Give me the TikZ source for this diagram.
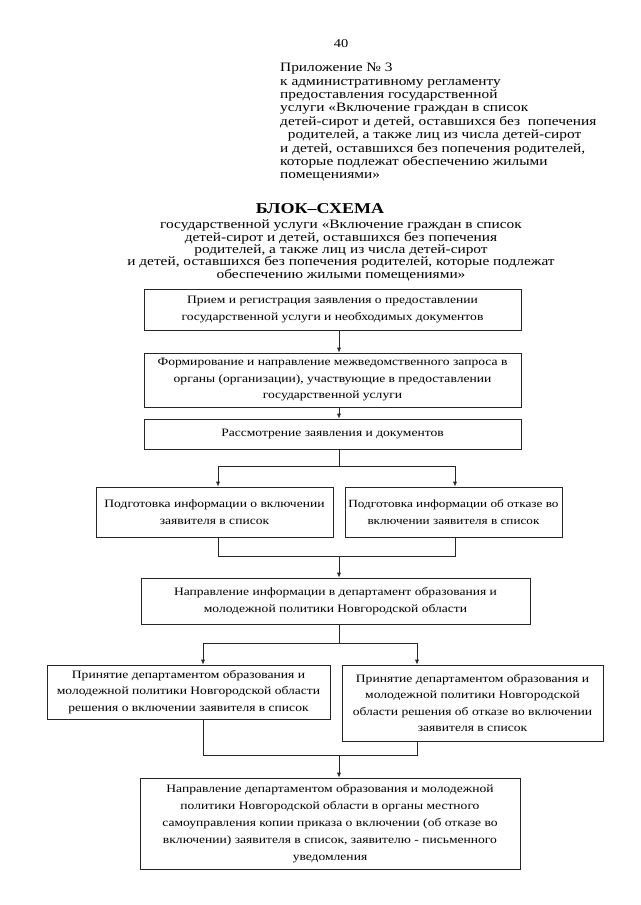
\documentclass[tikz,border=0pt]{standalone}
\usepackage{fontspec}
\setmainfont[FakeStretch=1.2]{Liberation Serif}
\usetikzlibrary{arrows.meta}
\begin{document}
\begin{tikzpicture}[x=1pt,y=-1pt,
  boxst/.style={draw=black!85,line width=0.7pt,align=center,inner sep=2pt,
     font=\fontsize{11.3}{16.5}\selectfont},
  linest/.style={draw=black!85,line width=0.7pt},
  arr/.style={linest,-{Latex[length=5pt,width=4pt]}}]
\useasboundingbox (0,0) rectangle (640,905);
\node (pg) at (341,44) {\fontsize{12}{14}\selectfont 40};
\node[anchor=north west,align=left,inner sep=0pt,font=\fontsize{12.8}{13.4}\selectfont] (hdr) at (280,63)
 {Приложение № 3\\к административному регламенту\\предоставления государственной\\услуги «Включение граждан в список\\ детей-сирот и детей, оставшихся без\ \ попечения\\\ \ родителей, а также лиц из числа детей-сирот\\и детей, оставшихся без попечения родителей,\\которые подлежат обеспечению жилыми\\помещениями»};
\node[font=\bfseries\fontsize{15}{16}\selectfont,inner sep=0pt] (ttl) at (320,209) {БЛОК–СХЕМА};
\node[anchor=north,align=center,inner sep=0pt,font=\fontsize{12.8}{12.3}\selectfont] (sub) at (341,220)
 {государственной услуги «Включение граждан в список\\детей-сирот и детей, оставшихся без попечения\\родителей, а также лиц из числа детей-сирот\\и детей, оставшихся без попечения родителей, которые подлежат\\обеспечению жилыми помещениями»};

\node[boxst,minimum width=377,minimum height=41] (b1) at (332.5,309.5)
 {Прием и регистрация заявления о предоставлении\\государственной услуги и необходимых документов};
\node[boxst,minimum width=377,minimum height=54] (b2) at (332.5,380)
 {Формирование и направление межведомственного запроса в\\органы (организации), участвующие в предоставлении\\государственной услуги};
\node[boxst,minimum width=377,minimum height=30] (b3) at (332.5,434)
 {Рассмотрение заявления и документов};
\node[boxst,minimum width=237,minimum height=50] (b4a) at (214.5,512)
 {Подготовка информации о включении\\заявителя в список};
\node[boxst,minimum width=217,minimum height=50,font=\fontsize{11}{16.5}\selectfont] (b4b) at (453.5,512)
 {Подготовка информации об отказе во\\включении заявителя в список};
\node[boxst,minimum width=389,minimum height=46] (b5) at (335.5,601)
 {Направление информации в департамент образования и\\молодежной политики Новгородской области};
\node[boxst,minimum width=283,minimum height=54] (b6a) at (188.5,692)
 {Принятие департаментом образования и\\молодежной политики Новгородской области\\решения о включении заявителя в список};
\node[boxst,minimum width=261,minimum height=76] (b6b) at (472.5,703)
 {Принятие департаментом образования и\\молодежной политики Новгородской\\области решения об отказе во включении\\заявителя в список};
\node[boxst,minimum width=380,minimum height=91,font=\fontsize{11.3}{17}\selectfont] (b7) at (330,823.5)
 {Направление департаментом образования и молодежной\\политики Новгородской области в органы местного\\самоуправления копии приказа о включении (об отказе во\\включении) заявителя в список, заявителю - письменного\\уведомления};

\coordinate (sp) at (339,0);
\coordinate (xa) at (218,0);
\coordinate (xb) at (455,0);
\coordinate (xc) at (203,0);
\coordinate (xd) at (417,0);
\coordinate (y1) at (0,466);
\coordinate (y2) at (0,556);
\coordinate (y3) at (0,643);
\coordinate (y4) at (0,755);

\draw[arr] (b1.south -| sp) -- (b2.north -| sp);
\draw[arr] (b2.south -| sp) -- (b3.north -| sp);
\draw[linest] (b3.south -| sp) -- (sp |- y1);
\draw[arr] (sp |- y1) -- (xa |- y1) -- (b4a.north -| xa);
\draw[arr] (sp |- y1) -- (xb |- y1) -- (b4b.north -| xb);
\draw[linest] (b4a.south -| xa) -- (xa |- y2) -- (xb |- y2) -- (b4b.south -| xb);
\draw[arr] (sp |- y2) -- (b5.north -| sp);
\draw[linest] (b5.south -| sp) -- (sp |- y3);
\draw[arr] (sp |- y3) -- (xc |- y3) -- (b6a.north -| xc);
\draw[arr] (sp |- y3) -- (xd |- y3) -- (b6b.north -| xd);
\draw[linest] (b6a.south -| xc) -- (xc |- y4) -- (xd |- y4) -- (b6b.south -| xd);
\draw[arr] (sp |- y4) -- (b7.north -| sp);
\end{tikzpicture}
\end{document}
